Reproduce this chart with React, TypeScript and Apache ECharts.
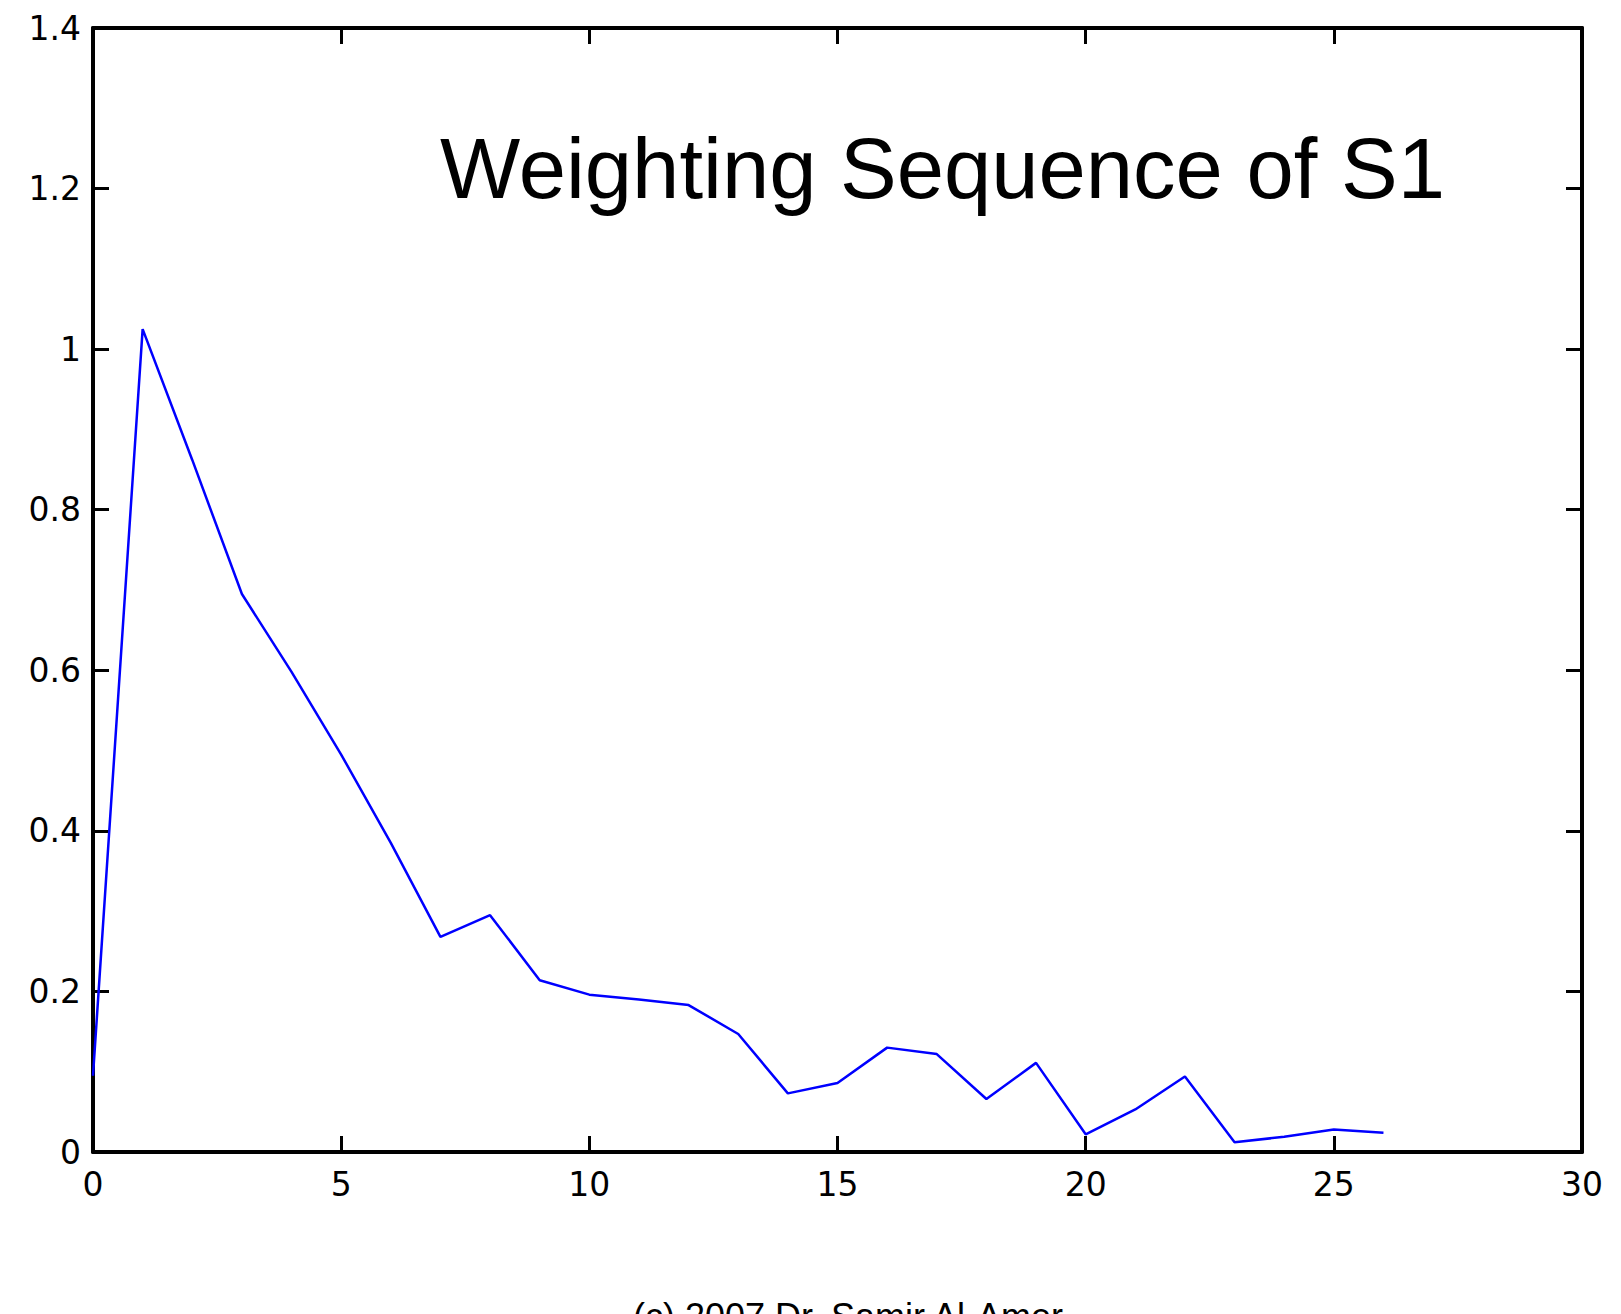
import React, { useEffect, useRef } from "react";
import * as echarts from "echarts";

const xValues = [0, 1, 2, 3, 4, 5, 6, 7, 8, 9, 10, 11, 12, 13, 14, 15, 16, 17, 18, 19, 20, 21, 22, 23, 24, 25, 26];
const weights = [
  0.095, 1.025, 0.862, 0.695, 0.598, 0.495, 0.385, 0.268, 0.295, 0.214, 0.196, 0.19, 0.183, 0.147,
  0.073, 0.086, 0.13, 0.122, 0.066, 0.111, 0.022, 0.053, 0.094, 0.012, 0.019, 0.028, 0.024,
];
const titleText = "Weighting Sequence of S1";
const footerText = "(c) 2007 Dr. Samir Al-Amer";
const xRange = [0, 30];
const yRange = [0, 1.4];

export default function App() {
  const ref = useRef<HTMLDivElement>(null);
  useEffect(() => {
    document.body.style.margin = "0";
    if (!ref.current) return;
    const chart = echarts.init(ref.current, null, { renderer: "svg" });
    const axisLine = { show: true, onZero: false, lineStyle: { color: "#000", width: 4 } };
    const tick = { show: true, inside: true, length: 16, lineStyle: { color: "#000", width: 3 } };
    const labelFont = { color: "#000", fontFamily: "DejaVu Sans", fontSize: 33 };
    chart.setOption({
      animation: false,
      backgroundColor: "#fff",
      grid: { left: 93, right: 39, top: 28, bottom: 162, containLabel: false },
      xAxis: [
        {
          type: "value",
          min: xRange[0],
          max: xRange[1],
          interval: 5,
          position: "bottom",
          axisLine,
          axisTick: tick,
          splitLine: { show: false },
          axisLabel: { ...labelFont, margin: 16 },
        },
        {
          type: "value",
          min: xRange[0],
          max: xRange[1],
          interval: 5,
          position: "top",
          axisLine,
          axisTick: tick,
          splitLine: { show: false },
          axisLabel: { show: false },
        },
      ],
      yAxis: [
        {
          type: "value",
          min: yRange[0],
          max: yRange[1],
          interval: 0.2,
          position: "left",
          axisLine,
          axisTick: tick,
          splitLine: { show: false },
          axisLabel: { ...labelFont, margin: 12 },
        },
        {
          type: "value",
          min: yRange[0],
          max: yRange[1],
          interval: 0.2,
          position: "right",
          axisLine,
          axisTick: tick,
          splitLine: { show: false },
          axisLabel: { show: false },
        },
      ],
      series: [
        {
          type: "line",
          data: xValues.map((x, i) => [x, weights[i]]),
          showSymbol: false,
          symbol: "none",
          lineStyle: { color: "#0000ff", width: 2.5 },
          xAxisIndex: 0,
          yAxisIndex: 0,
        },
      ],
      graphic: [
        {
          type: "text",
          left: 440,
          top: 126,
          style: {
            text: titleText,
            fill: "#000",
            font: "85px 'Liberation Sans', Arial, sans-serif",
          },
        },
        {
          type: "text",
          x: 848,
          y: 1298,
          style: {
            text: footerText,
            fill: "#000",
            font: "36px 'Liberation Sans', Arial, sans-serif",
            textAlign: "center",
            textVerticalAlign: "top",
          },
        },
      ],
    });
    return () => chart.dispose();
  }, []);
  return <div ref={ref} style={{ width: 1621, height: 1314, overflow: "hidden" }} />;
}
